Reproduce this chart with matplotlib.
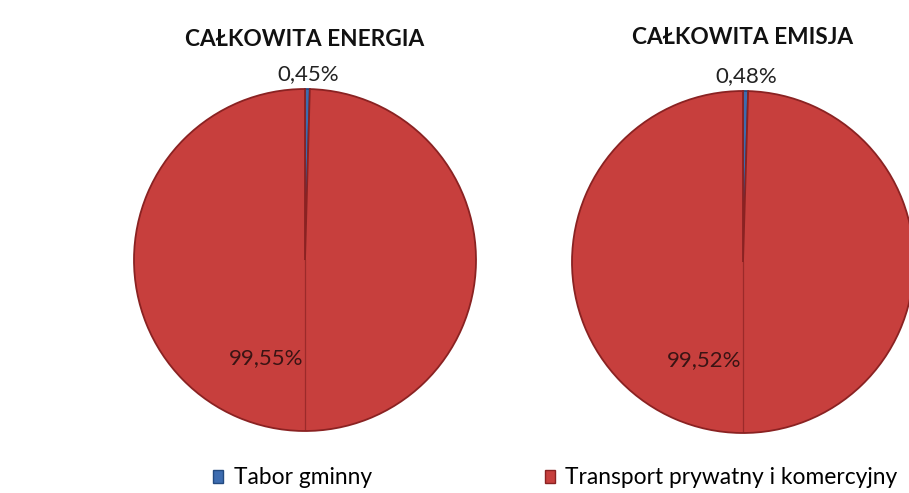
import matplotlib.pyplot as plt
from matplotlib.patches import Patch

plt.rcParams['font.family'] = ['Lato', 'DejaVu Sans']

titles = ['CAŁKOWITA ENERGIA', 'CAŁKOWITA EMISJA']
categories = ['Tabor gminny', 'Transport prywatny i komercyjny']
energy = [0.45, 99.55]
emission = [0.48, 99.52]
colors = ['#3D6CB0', '#C73F3D']
edges = ['#234A80', '#8A2222']


def fmt(v):
    return f'{v:.2f}%'.replace('.', ',')


def draw_pie(ax, values, title, title_y):
    wedges, _ = ax.pie(values, colors=colors, startangle=90, counterclock=False,
                       radius=1.0, wedgeprops=dict(linewidth=1.3))
    for w, ec in zip(wedges, edges):
        w.set_edgecolor(ec)
    # faint seam down the middle like the original bevel
    ax.plot([0, 0], [-1, 0], color='#8A2222', lw=0.9, alpha=0.7)
    ax.text(0.02, 1.09, fmt(values[0]), ha='center', va='center', fontsize=16, color='#222222')
    ax.text(-0.23, -0.575, fmt(values[1]), ha='center', va='center', fontsize=16, color='#3a1414')
    ax.text(0, title_y, title, ha='center', va='center', fontsize=16.3, fontweight='bold', color='#111111')
    ax.set_xlim(-1, 1)
    ax.set_ylim(-1, 1)
    ax.set_aspect('equal')
    ax.axis('off')


fig = plt.figure(figsize=(9.09, 4.93), dpi=100)
W, H = 909, 493
size = 342
ax1 = fig.add_axes([134 / W, 62 / H, size / W, size / H])
ax2 = fig.add_axes([572 / W, 60 / H, size / W, size / H])
draw_pie(ax1, energy, titles[0], 1.29)
draw_pie(ax2, emission, titles[1], 1.31)

handles = [Patch(facecolor=c, edgecolor=e) for c, e in zip(colors, edges)]
fig.legend(handles, categories, ncol=2, loc='center left', bbox_to_anchor=(213 / W, 1 - 478 / H),
           frameon=False, fontsize=16.4, handlelength=0.45, handleheight=0.5,
           handletextpad=0.45, columnspacing=7.6, borderpad=0, borderaxespad=0)

fig.savefig('out.png', dpi=100, facecolor='white')
